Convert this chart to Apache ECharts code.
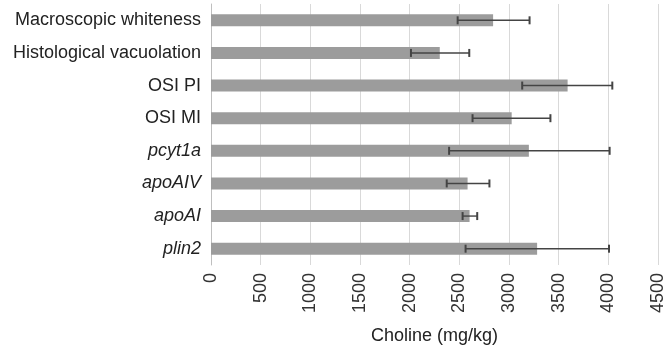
<!DOCTYPE html>
<html><head><meta charset="utf-8">
<script src="https://cdn.jsdelivr.net/npm/echarts@6/dist/echarts.min.js"></script>
<style>html,body{margin:0;padding:0;background:#fff}#c{width:667px;height:350px}</style>
</head><body><div id="c"></div>
<script>
var categories = ["Macroscopic whiteness","Histological vacuolation","OSI PI","OSI MI","pcyt1a","apoAIV","apoAI","plin2"];
var italicCats = ["pcyt1a","apoAIV","apoAI","plin2"];
var means = [2840, 2303, 3590, 3027, 3200, 2583, 2603, 3283];
var lows  = [2483, 2013, 3133, 2633, 2397, 2373, 2533, 2563];
var highs = [3207, 2600, 4040, 3417, 4013, 2803, 2680, 4007];
var xTicks = [0,500,1000,1500,2000,2500,3000,3500,4000,4500];

var FONT = 'Liberation Sans, Arial';
var chart = echarts.init(document.getElementById('c'));
var errData = categories.map(function(c,i){return [i, lows[i], highs[i]];});
chart.setOption({
  animation:false,
  grid:{left:211,right:7,top:4,bottom:85},
  xAxis:{type:'value',min:xTicks[0],max:xTicks[xTicks.length-1],interval:500,
    axisLine:{show:false},axisTick:{show:false},
    splitLine:{lineStyle:{color:'#d9d9d9',width:1}},
    axisLabel:{rotate:90,color:'#333',fontSize:18,fontFamily:FONT,margin:8,
      formatter:function(v){return xTicks.indexOf(v)>=0?String(v):'';}},
    name:'Choline (mg/kg)',nameLocation:'middle',nameGap:62,
    nameTextStyle:{color:'#222',fontSize:18,fontFamily:FONT}},
  yAxis:{type:'category',data:categories,inverse:true,
    axisLine:{show:true,lineStyle:{color:'#bfbfbf'}},axisTick:{show:false},
    axisLabel:{color:'#222',fontSize:18,fontFamily:FONT,margin:10,
      formatter:function(v){return italicCats.indexOf(v)>=0?'{i|'+v+'}':v;},
      rich:{i:{fontStyle:'italic',fontSize:18,fontFamily:FONT,color:'#222'}}}},
  series:[
    {type:'bar',data:means,barWidth:12,itemStyle:{color:'#9c9c9c'}},
    {type:'custom',data:errData,z:10,
      renderItem:function(params,api){
        var y=api.value(0);
        var p1=api.coord([api.value(1),y]);
        var p2=api.coord([api.value(2),y]);
        var h=4;
        var st={stroke:'#444',lineWidth:1.4};
        return {type:'group',children:[
          {type:'line',shape:{x1:p1[0],y1:p1[1],x2:p2[0],y2:p2[1]},style:st},
          {type:'line',shape:{x1:p1[0],y1:p1[1]-h,x2:p1[0],y2:p1[1]+h},style:{stroke:'#444',lineWidth:2}},
          {type:'line',shape:{x1:p2[0],y1:p2[1]-h,x2:p2[0],y2:p2[1]+h},style:{stroke:'#444',lineWidth:2}}
        ]};
      }}
  ]
});
</script></body></html>
